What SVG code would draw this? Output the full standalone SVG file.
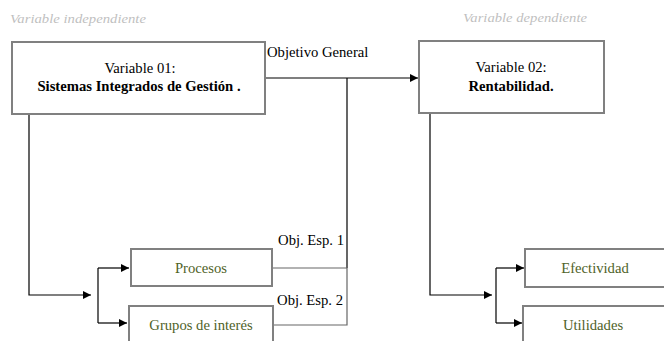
<svg xmlns="http://www.w3.org/2000/svg" width="664" height="341" viewBox="0 0 664 341">
<defs>
<style>
.box{fill:#fff;stroke:#808080;stroke-width:2}
text{font-family:"Liberation Serif","Times New Roman",serif}
.t{font-size:14.67px;fill:#000}
.b{font-weight:bold}
.g{fill:#4f6228}
.hint{font-style:italic;font-size:12.5px;fill:#bfbfbf}
.ln{fill:none;stroke:#000;stroke-width:1.2}
.lg{fill:none;stroke:#666;stroke-width:1.2}
</style>
<marker id="ah" viewBox="0 0 10 10" refX="10" refY="5" markerWidth="8" markerHeight="8" markerUnits="userSpaceOnUse" orient="auto">
<path d="M0,0 L10,5 L0,10 z" fill="#000"/>
</marker>
</defs>
<text class="hint" x="10" y="23" textLength="136" lengthAdjust="spacingAndGlyphs">Variable independiente</text>
<text class="hint" x="463" y="22" textLength="124" lengthAdjust="spacingAndGlyphs">Variable dependiente</text>
<g id="connectors">
<path class="ln" d="M265,78 H418" marker-end="url(#ah)"/>
<path class="ln" d="M347,78 V268"/>
<path class="lg" d="M272,268 H347 V325 H273"/>
<path class="ln" d="M29,114 V295 H91" marker-end="url(#ah)"/>
<path class="ln" d="M98,268 V323"/>
<path class="ln" d="M98,268 H129" marker-end="url(#ah)"/>
<path class="ln" d="M98,323 H127" marker-end="url(#ah)"/>
<path class="ln" d="M430,113 V295 H492" marker-end="url(#ah)"/>
<path class="ln" d="M496,268 V323"/>
<path class="ln" d="M496,268 H524" marker-end="url(#ah)"/>
<path class="ln" d="M496,323 H522" marker-end="url(#ah)"/>
<text class="t" x="267" y="57">Objetivo General</text>
<text class="t" x="344" y="245" text-anchor="end">Obj. Esp. 1</text>
<text class="t" x="343" y="305" text-anchor="end">Obj. Esp. 2</text>
</g>
<g id="var01">
<rect class="box" x="12" y="42" width="253" height="72"/>
<text class="t" x="140" y="73" text-anchor="middle">Variable 01:</text>
<text class="t b" x="139" y="91" text-anchor="middle">Sistemas Integrados de Gestión .</text>
</g>
<g id="var02">
<rect class="box" x="419" y="41" width="185" height="72"/>
<text class="t" x="511" y="72" text-anchor="middle">Variable 02:</text>
<text class="t b" x="511" y="91" text-anchor="middle">Rentabilidad.</text>
</g>
<g id="procesos">
<rect class="box" x="131" y="249" width="141" height="37"/>
<text class="t g" x="201" y="273" text-anchor="middle">Procesos</text>
</g>
<g id="grupos">
<rect class="box" x="129" y="306" width="144" height="40"/>
<text class="t g" x="201" y="330" text-anchor="middle">Grupos de interés</text>
</g>
<g id="efectividad">
<rect class="box" x="525" y="249" width="143" height="38"/>
<text class="t g" x="595" y="273" text-anchor="middle">Efectividad</text>
</g>
<g id="utilidades">
<rect class="box" x="523" y="306" width="145" height="40"/>
<text class="t g" x="593" y="330" text-anchor="middle">Utilidades</text>
</g>
</svg>
